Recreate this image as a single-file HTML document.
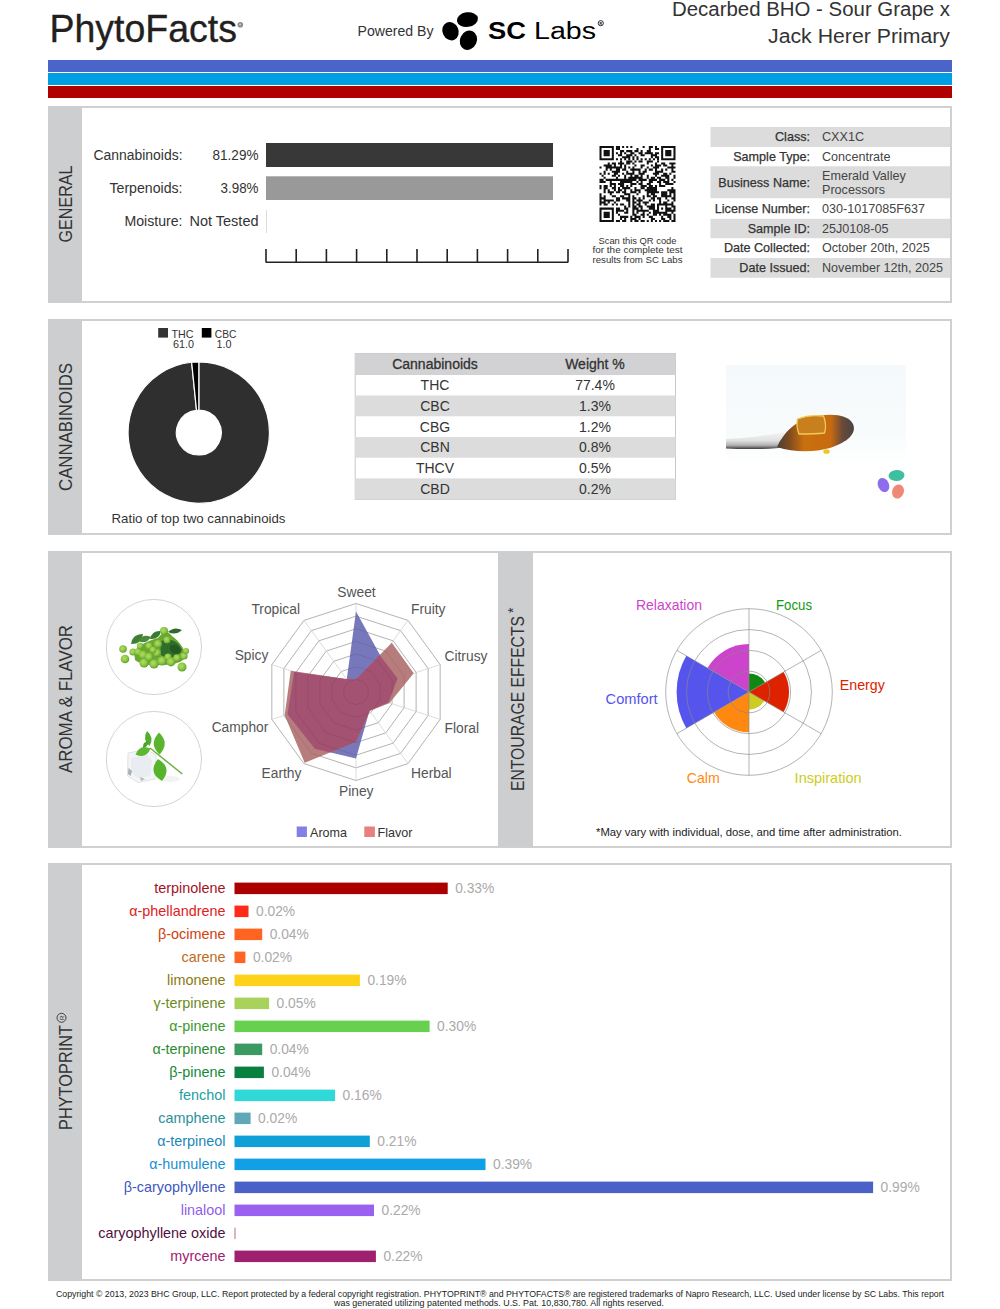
<!DOCTYPE html><html><head><meta charset="utf-8"><style>html,body{margin:0;padding:0;background:#fff;overflow:hidden}svg{display:block}text{font-family:"Liberation Sans",sans-serif}</style></head><body>
<svg width="1000" height="1309" viewBox="0 0 1000 1309">
<text x="49.5" y="42" font-size="39" fill="#231f20" text-anchor="start" font-weight="400" textLength="187.5" lengthAdjust="spacingAndGlyphs" stroke="#231f20" stroke-width="0.35">PhytoFacts</text>
<circle cx="240.3" cy="24.8" r="2.8" fill="#8a8a8a"/>
<circle cx="240.1" cy="24.6" r="1.1" fill="#c8c8c8"/>
<text x="433.5" y="36" font-size="14" fill="#333" text-anchor="end" font-weight="400" textLength="76" lengthAdjust="spacingAndGlyphs" >Powered By</text>
<ellipse cx="467.4" cy="19.6" rx="10.6" ry="7.3" transform="rotate(-8 467.4 19.6)" fill="#000"/>
<ellipse cx="450.5" cy="31.2" rx="8.0" ry="9.4" transform="rotate(-25 450.5 31.2)" fill="#000"/>
<ellipse cx="468.4" cy="40.2" rx="8.4" ry="10.0" transform="rotate(25 468.4 40.2)" fill="#000"/>
<text x="488" y="39.3" font-size="23.5" fill="#000" text-anchor="start" font-weight="700" textLength="38" lengthAdjust="spacingAndGlyphs" >SC</text>
<text x="534" y="39.3" font-size="23.5" fill="#000" text-anchor="start" font-weight="400" textLength="62" lengthAdjust="spacingAndGlyphs" >Labs</text>
<circle cx="600.8" cy="23.2" r="2.6" fill="none" stroke="#000" stroke-width="0.8"/>
<text x="600.8" y="25" font-size="3.5" fill="#000" text-anchor="middle" font-weight="700" >R</text>
<text x="950" y="15.7" font-size="19.5" fill="#333" text-anchor="end" font-weight="400" textLength="278" lengthAdjust="spacingAndGlyphs" >Decarbed BHO - Sour Grape x</text>
<text x="950" y="42.7" font-size="19.5" fill="#333" text-anchor="end" font-weight="400" textLength="182" lengthAdjust="spacingAndGlyphs" >Jack Herer Primary</text>
<rect x="48" y="60" width="904" height="12" fill="#4a64c9"/>
<rect x="48" y="73" width="904" height="12" fill="#009ee2"/>
<rect x="48" y="86" width="904" height="12" fill="#b00000"/>
<rect x="49" y="107" width="902" height="195" fill="#fff" stroke="#d0d0d0" stroke-width="2"/>
<rect x="48" y="106" width="34" height="197" fill="#cdced0"/>
<rect x="49" y="320" width="902" height="214" fill="#fff" stroke="#d0d0d0" stroke-width="2"/>
<rect x="48" y="319" width="34" height="216" fill="#cdced0"/>
<rect x="49" y="552" width="902" height="295" fill="#fff" stroke="#d0d0d0" stroke-width="2"/>
<rect x="48" y="551" width="34" height="297" fill="#cdced0"/>
<rect x="49" y="864" width="902" height="416" fill="#fff" stroke="#d0d0d0" stroke-width="2"/>
<rect x="48" y="863" width="34" height="418" fill="#cdced0"/>
<rect x="498" y="552" width="35" height="295" fill="#cdced0"/>
<text x="0" y="0" font-size="18.5" fill="#333" text-anchor="middle" textLength="77" lengthAdjust="spacingAndGlyphs" transform="translate(72.3 204) rotate(-90)">GENERAL</text>
<text x="0" y="0" font-size="18.5" fill="#333" text-anchor="middle" textLength="128" lengthAdjust="spacingAndGlyphs" transform="translate(72.3 427) rotate(-90)">CANNABINOIDS</text>
<text x="0" y="0" font-size="18.5" fill="#333" text-anchor="middle" textLength="148" lengthAdjust="spacingAndGlyphs" transform="translate(72.3 699) rotate(-90)">AROMA &amp; FLAVOR</text>
<text x="0" y="0" font-size="18.5" fill="#333" text-anchor="middle" textLength="175" lengthAdjust="spacingAndGlyphs" transform="translate(524.3 703.5) rotate(-90)">ENTOURAGE EFFECTS</text>
<text x="0" y="0" font-size="14" fill="#333" transform="translate(518 613) rotate(-90)">*</text>
<text x="0" y="0" font-size="18" fill="#333" text-anchor="middle" textLength="105" lengthAdjust="spacingAndGlyphs" transform="translate(71.7 1077.5) rotate(-90)">PHYTOPRINT</text>
<circle cx="61.5" cy="1017.8" r="4.5" fill="none" stroke="#333" stroke-width="0.9"/>
<text x="0" y="0" font-size="6" fill="#333" text-anchor="middle" transform="translate(63.7 1017.8) rotate(-90)">R</text>
<text x="182.5" y="160" font-size="14" fill="#333" text-anchor="end" font-weight="400" textLength="89" lengthAdjust="spacingAndGlyphs" >Cannabinoids:</text>
<text x="258.5" y="160" font-size="14" fill="#333" text-anchor="end" font-weight="400" textLength="46" lengthAdjust="spacingAndGlyphs" >81.29%</text>
<text x="182.5" y="193" font-size="14" fill="#333" text-anchor="end" font-weight="400" textLength="73" lengthAdjust="spacingAndGlyphs" >Terpenoids:</text>
<text x="258.5" y="193" font-size="14" fill="#333" text-anchor="end" font-weight="400" textLength="38" lengthAdjust="spacingAndGlyphs" >3.98%</text>
<text x="182.5" y="226.4" font-size="14" fill="#333" text-anchor="end" font-weight="400" textLength="58" lengthAdjust="spacingAndGlyphs" >Moisture:</text>
<text x="258.5" y="226.4" font-size="14" fill="#333" text-anchor="end" font-weight="400" textLength="69" lengthAdjust="spacingAndGlyphs" >Not Tested</text>
<rect x="266" y="143" width="287" height="24" fill="#383838"/>
<rect x="266" y="176.3" width="287" height="23.7" fill="#999"/>
<rect x="266" y="210" width="1" height="23" fill="#ddd"/>
<path d="M266 262.2H568 M266.0 249V262.5M296.2 249V262.5M326.4 249V262.5M356.6 249V262.5M386.8 249V262.5M417.0 249V262.5M447.2 249V262.5M477.4 249V262.5M507.6 249V262.5M537.8 249V262.5M568.0 249V262.5" stroke="#222" stroke-width="1.6" fill="none"/>
<path d="M599.50 146.00h2.05v2.05h-2.05zM601.55 146.00h2.05v2.05h-2.05zM603.61 146.00h2.05v2.05h-2.05zM605.66 146.00h2.05v2.05h-2.05zM607.72 146.00h2.05v2.05h-2.05zM609.77 146.00h2.05v2.05h-2.05zM611.82 146.00h2.05v2.05h-2.05zM615.93 146.00h2.05v2.05h-2.05zM617.99 146.00h2.05v2.05h-2.05zM622.09 146.00h2.05v2.05h-2.05zM626.20 146.00h2.05v2.05h-2.05zM630.31 146.00h2.05v2.05h-2.05zM642.64 146.00h2.05v2.05h-2.05zM648.80 146.00h2.05v2.05h-2.05zM650.85 146.00h2.05v2.05h-2.05zM654.96 146.00h2.05v2.05h-2.05zM661.12 146.00h2.05v2.05h-2.05zM663.18 146.00h2.05v2.05h-2.05zM665.23 146.00h2.05v2.05h-2.05zM667.28 146.00h2.05v2.05h-2.05zM669.34 146.00h2.05v2.05h-2.05zM671.39 146.00h2.05v2.05h-2.05zM673.45 146.00h2.05v2.05h-2.05zM599.50 148.05h2.05v2.05h-2.05zM611.82 148.05h2.05v2.05h-2.05zM615.93 148.05h2.05v2.05h-2.05zM617.99 148.05h2.05v2.05h-2.05zM636.47 148.05h2.05v2.05h-2.05zM648.80 148.05h2.05v2.05h-2.05zM654.96 148.05h2.05v2.05h-2.05zM657.01 148.05h2.05v2.05h-2.05zM661.12 148.05h2.05v2.05h-2.05zM673.45 148.05h2.05v2.05h-2.05zM599.50 150.11h2.05v2.05h-2.05zM603.61 150.11h2.05v2.05h-2.05zM605.66 150.11h2.05v2.05h-2.05zM607.72 150.11h2.05v2.05h-2.05zM611.82 150.11h2.05v2.05h-2.05zM620.04 150.11h2.05v2.05h-2.05zM622.09 150.11h2.05v2.05h-2.05zM626.20 150.11h2.05v2.05h-2.05zM628.26 150.11h2.05v2.05h-2.05zM630.31 150.11h2.05v2.05h-2.05zM634.42 150.11h2.05v2.05h-2.05zM636.47 150.11h2.05v2.05h-2.05zM640.58 150.11h2.05v2.05h-2.05zM646.74 150.11h2.05v2.05h-2.05zM648.80 150.11h2.05v2.05h-2.05zM661.12 150.11h2.05v2.05h-2.05zM665.23 150.11h2.05v2.05h-2.05zM667.28 150.11h2.05v2.05h-2.05zM669.34 150.11h2.05v2.05h-2.05zM673.45 150.11h2.05v2.05h-2.05zM599.50 152.16h2.05v2.05h-2.05zM603.61 152.16h2.05v2.05h-2.05zM605.66 152.16h2.05v2.05h-2.05zM607.72 152.16h2.05v2.05h-2.05zM611.82 152.16h2.05v2.05h-2.05zM615.93 152.16h2.05v2.05h-2.05zM620.04 152.16h2.05v2.05h-2.05zM624.15 152.16h2.05v2.05h-2.05zM630.31 152.16h2.05v2.05h-2.05zM632.36 152.16h2.05v2.05h-2.05zM638.53 152.16h2.05v2.05h-2.05zM640.58 152.16h2.05v2.05h-2.05zM644.69 152.16h2.05v2.05h-2.05zM646.74 152.16h2.05v2.05h-2.05zM648.80 152.16h2.05v2.05h-2.05zM650.85 152.16h2.05v2.05h-2.05zM654.96 152.16h2.05v2.05h-2.05zM657.01 152.16h2.05v2.05h-2.05zM661.12 152.16h2.05v2.05h-2.05zM665.23 152.16h2.05v2.05h-2.05zM667.28 152.16h2.05v2.05h-2.05zM669.34 152.16h2.05v2.05h-2.05zM673.45 152.16h2.05v2.05h-2.05zM599.50 154.22h2.05v2.05h-2.05zM603.61 154.22h2.05v2.05h-2.05zM605.66 154.22h2.05v2.05h-2.05zM607.72 154.22h2.05v2.05h-2.05zM611.82 154.22h2.05v2.05h-2.05zM617.99 154.22h2.05v2.05h-2.05zM620.04 154.22h2.05v2.05h-2.05zM626.20 154.22h2.05v2.05h-2.05zM628.26 154.22h2.05v2.05h-2.05zM630.31 154.22h2.05v2.05h-2.05zM634.42 154.22h2.05v2.05h-2.05zM640.58 154.22h2.05v2.05h-2.05zM642.64 154.22h2.05v2.05h-2.05zM650.85 154.22h2.05v2.05h-2.05zM652.91 154.22h2.05v2.05h-2.05zM654.96 154.22h2.05v2.05h-2.05zM661.12 154.22h2.05v2.05h-2.05zM665.23 154.22h2.05v2.05h-2.05zM667.28 154.22h2.05v2.05h-2.05zM669.34 154.22h2.05v2.05h-2.05zM673.45 154.22h2.05v2.05h-2.05zM599.50 156.27h2.05v2.05h-2.05zM611.82 156.27h2.05v2.05h-2.05zM622.09 156.27h2.05v2.05h-2.05zM624.15 156.27h2.05v2.05h-2.05zM626.20 156.27h2.05v2.05h-2.05zM628.26 156.27h2.05v2.05h-2.05zM632.36 156.27h2.05v2.05h-2.05zM636.47 156.27h2.05v2.05h-2.05zM650.85 156.27h2.05v2.05h-2.05zM654.96 156.27h2.05v2.05h-2.05zM657.01 156.27h2.05v2.05h-2.05zM661.12 156.27h2.05v2.05h-2.05zM673.45 156.27h2.05v2.05h-2.05zM599.50 158.32h2.05v2.05h-2.05zM601.55 158.32h2.05v2.05h-2.05zM603.61 158.32h2.05v2.05h-2.05zM605.66 158.32h2.05v2.05h-2.05zM607.72 158.32h2.05v2.05h-2.05zM609.77 158.32h2.05v2.05h-2.05zM611.82 158.32h2.05v2.05h-2.05zM615.93 158.32h2.05v2.05h-2.05zM620.04 158.32h2.05v2.05h-2.05zM624.15 158.32h2.05v2.05h-2.05zM628.26 158.32h2.05v2.05h-2.05zM632.36 158.32h2.05v2.05h-2.05zM636.47 158.32h2.05v2.05h-2.05zM640.58 158.32h2.05v2.05h-2.05zM644.69 158.32h2.05v2.05h-2.05zM648.80 158.32h2.05v2.05h-2.05zM652.91 158.32h2.05v2.05h-2.05zM657.01 158.32h2.05v2.05h-2.05zM661.12 158.32h2.05v2.05h-2.05zM663.18 158.32h2.05v2.05h-2.05zM665.23 158.32h2.05v2.05h-2.05zM667.28 158.32h2.05v2.05h-2.05zM669.34 158.32h2.05v2.05h-2.05zM671.39 158.32h2.05v2.05h-2.05zM673.45 158.32h2.05v2.05h-2.05zM620.04 160.38h2.05v2.05h-2.05zM626.20 160.38h2.05v2.05h-2.05zM628.26 160.38h2.05v2.05h-2.05zM630.31 160.38h2.05v2.05h-2.05zM634.42 160.38h2.05v2.05h-2.05zM638.53 160.38h2.05v2.05h-2.05zM640.58 160.38h2.05v2.05h-2.05zM646.74 160.38h2.05v2.05h-2.05zM648.80 160.38h2.05v2.05h-2.05zM650.85 160.38h2.05v2.05h-2.05zM657.01 160.38h2.05v2.05h-2.05zM607.72 162.43h2.05v2.05h-2.05zM611.82 162.43h2.05v2.05h-2.05zM613.88 162.43h2.05v2.05h-2.05zM617.99 162.43h2.05v2.05h-2.05zM620.04 162.43h2.05v2.05h-2.05zM622.09 162.43h2.05v2.05h-2.05zM626.20 162.43h2.05v2.05h-2.05zM628.26 162.43h2.05v2.05h-2.05zM632.36 162.43h2.05v2.05h-2.05zM646.74 162.43h2.05v2.05h-2.05zM654.96 162.43h2.05v2.05h-2.05zM661.12 162.43h2.05v2.05h-2.05zM663.18 162.43h2.05v2.05h-2.05zM669.34 162.43h2.05v2.05h-2.05zM671.39 162.43h2.05v2.05h-2.05zM673.45 162.43h2.05v2.05h-2.05zM603.61 164.49h2.05v2.05h-2.05zM605.66 164.49h2.05v2.05h-2.05zM607.72 164.49h2.05v2.05h-2.05zM609.77 164.49h2.05v2.05h-2.05zM613.88 164.49h2.05v2.05h-2.05zM620.04 164.49h2.05v2.05h-2.05zM624.15 164.49h2.05v2.05h-2.05zM634.42 164.49h2.05v2.05h-2.05zM640.58 164.49h2.05v2.05h-2.05zM642.64 164.49h2.05v2.05h-2.05zM650.85 164.49h2.05v2.05h-2.05zM654.96 164.49h2.05v2.05h-2.05zM657.01 164.49h2.05v2.05h-2.05zM659.07 164.49h2.05v2.05h-2.05zM663.18 164.49h2.05v2.05h-2.05zM665.23 164.49h2.05v2.05h-2.05zM671.39 164.49h2.05v2.05h-2.05zM599.50 166.54h2.05v2.05h-2.05zM605.66 166.54h2.05v2.05h-2.05zM607.72 166.54h2.05v2.05h-2.05zM609.77 166.54h2.05v2.05h-2.05zM611.82 166.54h2.05v2.05h-2.05zM613.88 166.54h2.05v2.05h-2.05zM615.93 166.54h2.05v2.05h-2.05zM617.99 166.54h2.05v2.05h-2.05zM620.04 166.54h2.05v2.05h-2.05zM624.15 166.54h2.05v2.05h-2.05zM628.26 166.54h2.05v2.05h-2.05zM632.36 166.54h2.05v2.05h-2.05zM640.58 166.54h2.05v2.05h-2.05zM646.74 166.54h2.05v2.05h-2.05zM652.91 166.54h2.05v2.05h-2.05zM654.96 166.54h2.05v2.05h-2.05zM657.01 166.54h2.05v2.05h-2.05zM667.28 166.54h2.05v2.05h-2.05zM669.34 166.54h2.05v2.05h-2.05zM671.39 166.54h2.05v2.05h-2.05zM673.45 166.54h2.05v2.05h-2.05zM605.66 168.59h2.05v2.05h-2.05zM609.77 168.59h2.05v2.05h-2.05zM615.93 168.59h2.05v2.05h-2.05zM617.99 168.59h2.05v2.05h-2.05zM622.09 168.59h2.05v2.05h-2.05zM624.15 168.59h2.05v2.05h-2.05zM630.31 168.59h2.05v2.05h-2.05zM632.36 168.59h2.05v2.05h-2.05zM634.42 168.59h2.05v2.05h-2.05zM636.47 168.59h2.05v2.05h-2.05zM638.53 168.59h2.05v2.05h-2.05zM644.69 168.59h2.05v2.05h-2.05zM648.80 168.59h2.05v2.05h-2.05zM650.85 168.59h2.05v2.05h-2.05zM654.96 168.59h2.05v2.05h-2.05zM661.12 168.59h2.05v2.05h-2.05zM665.23 168.59h2.05v2.05h-2.05zM671.39 168.59h2.05v2.05h-2.05zM603.61 170.65h2.05v2.05h-2.05zM611.82 170.65h2.05v2.05h-2.05zM613.88 170.65h2.05v2.05h-2.05zM615.93 170.65h2.05v2.05h-2.05zM617.99 170.65h2.05v2.05h-2.05zM626.20 170.65h2.05v2.05h-2.05zM632.36 170.65h2.05v2.05h-2.05zM638.53 170.65h2.05v2.05h-2.05zM642.64 170.65h2.05v2.05h-2.05zM644.69 170.65h2.05v2.05h-2.05zM654.96 170.65h2.05v2.05h-2.05zM657.01 170.65h2.05v2.05h-2.05zM659.07 170.65h2.05v2.05h-2.05zM661.12 170.65h2.05v2.05h-2.05zM671.39 170.65h2.05v2.05h-2.05zM673.45 170.65h2.05v2.05h-2.05zM599.50 172.70h2.05v2.05h-2.05zM603.61 172.70h2.05v2.05h-2.05zM607.72 172.70h2.05v2.05h-2.05zM613.88 172.70h2.05v2.05h-2.05zM615.93 172.70h2.05v2.05h-2.05zM622.09 172.70h2.05v2.05h-2.05zM626.20 172.70h2.05v2.05h-2.05zM628.26 172.70h2.05v2.05h-2.05zM630.31 172.70h2.05v2.05h-2.05zM632.36 172.70h2.05v2.05h-2.05zM638.53 172.70h2.05v2.05h-2.05zM640.58 172.70h2.05v2.05h-2.05zM642.64 172.70h2.05v2.05h-2.05zM652.91 172.70h2.05v2.05h-2.05zM654.96 172.70h2.05v2.05h-2.05zM657.01 172.70h2.05v2.05h-2.05zM663.18 172.70h2.05v2.05h-2.05zM665.23 172.70h2.05v2.05h-2.05zM669.34 172.70h2.05v2.05h-2.05zM601.55 174.76h2.05v2.05h-2.05zM611.82 174.76h2.05v2.05h-2.05zM613.88 174.76h2.05v2.05h-2.05zM617.99 174.76h2.05v2.05h-2.05zM624.15 174.76h2.05v2.05h-2.05zM630.31 174.76h2.05v2.05h-2.05zM634.42 174.76h2.05v2.05h-2.05zM636.47 174.76h2.05v2.05h-2.05zM640.58 174.76h2.05v2.05h-2.05zM646.74 174.76h2.05v2.05h-2.05zM654.96 174.76h2.05v2.05h-2.05zM661.12 174.76h2.05v2.05h-2.05zM663.18 174.76h2.05v2.05h-2.05zM665.23 174.76h2.05v2.05h-2.05zM667.28 174.76h2.05v2.05h-2.05zM673.45 174.76h2.05v2.05h-2.05zM603.61 176.81h2.05v2.05h-2.05zM615.93 176.81h2.05v2.05h-2.05zM624.15 176.81h2.05v2.05h-2.05zM628.26 176.81h2.05v2.05h-2.05zM630.31 176.81h2.05v2.05h-2.05zM632.36 176.81h2.05v2.05h-2.05zM634.42 176.81h2.05v2.05h-2.05zM636.47 176.81h2.05v2.05h-2.05zM638.53 176.81h2.05v2.05h-2.05zM640.58 176.81h2.05v2.05h-2.05zM646.74 176.81h2.05v2.05h-2.05zM650.85 176.81h2.05v2.05h-2.05zM652.91 176.81h2.05v2.05h-2.05zM657.01 176.81h2.05v2.05h-2.05zM659.07 176.81h2.05v2.05h-2.05zM665.23 176.81h2.05v2.05h-2.05zM667.28 176.81h2.05v2.05h-2.05zM673.45 176.81h2.05v2.05h-2.05zM599.50 178.86h2.05v2.05h-2.05zM601.55 178.86h2.05v2.05h-2.05zM605.66 178.86h2.05v2.05h-2.05zM607.72 178.86h2.05v2.05h-2.05zM609.77 178.86h2.05v2.05h-2.05zM611.82 178.86h2.05v2.05h-2.05zM613.88 178.86h2.05v2.05h-2.05zM615.93 178.86h2.05v2.05h-2.05zM617.99 178.86h2.05v2.05h-2.05zM620.04 178.86h2.05v2.05h-2.05zM622.09 178.86h2.05v2.05h-2.05zM624.15 178.86h2.05v2.05h-2.05zM626.20 178.86h2.05v2.05h-2.05zM628.26 178.86h2.05v2.05h-2.05zM630.31 178.86h2.05v2.05h-2.05zM632.36 178.86h2.05v2.05h-2.05zM634.42 178.86h2.05v2.05h-2.05zM638.53 178.86h2.05v2.05h-2.05zM640.58 178.86h2.05v2.05h-2.05zM642.64 178.86h2.05v2.05h-2.05zM644.69 178.86h2.05v2.05h-2.05zM648.80 178.86h2.05v2.05h-2.05zM650.85 178.86h2.05v2.05h-2.05zM652.91 178.86h2.05v2.05h-2.05zM654.96 178.86h2.05v2.05h-2.05zM659.07 178.86h2.05v2.05h-2.05zM661.12 178.86h2.05v2.05h-2.05zM663.18 178.86h2.05v2.05h-2.05zM667.28 178.86h2.05v2.05h-2.05zM671.39 178.86h2.05v2.05h-2.05zM599.50 180.92h2.05v2.05h-2.05zM601.55 180.92h2.05v2.05h-2.05zM603.61 180.92h2.05v2.05h-2.05zM609.77 180.92h2.05v2.05h-2.05zM620.04 180.92h2.05v2.05h-2.05zM622.09 180.92h2.05v2.05h-2.05zM624.15 180.92h2.05v2.05h-2.05zM626.20 180.92h2.05v2.05h-2.05zM628.26 180.92h2.05v2.05h-2.05zM630.31 180.92h2.05v2.05h-2.05zM636.47 180.92h2.05v2.05h-2.05zM640.58 180.92h2.05v2.05h-2.05zM648.80 180.92h2.05v2.05h-2.05zM650.85 180.92h2.05v2.05h-2.05zM657.01 180.92h2.05v2.05h-2.05zM659.07 180.92h2.05v2.05h-2.05zM663.18 180.92h2.05v2.05h-2.05zM665.23 180.92h2.05v2.05h-2.05zM667.28 180.92h2.05v2.05h-2.05zM673.45 180.92h2.05v2.05h-2.05zM609.77 182.97h2.05v2.05h-2.05zM611.82 182.97h2.05v2.05h-2.05zM613.88 182.97h2.05v2.05h-2.05zM617.99 182.97h2.05v2.05h-2.05zM620.04 182.97h2.05v2.05h-2.05zM622.09 182.97h2.05v2.05h-2.05zM630.31 182.97h2.05v2.05h-2.05zM632.36 182.97h2.05v2.05h-2.05zM634.42 182.97h2.05v2.05h-2.05zM638.53 182.97h2.05v2.05h-2.05zM640.58 182.97h2.05v2.05h-2.05zM646.74 182.97h2.05v2.05h-2.05zM648.80 182.97h2.05v2.05h-2.05zM659.07 182.97h2.05v2.05h-2.05zM665.23 182.97h2.05v2.05h-2.05zM667.28 182.97h2.05v2.05h-2.05zM669.34 182.97h2.05v2.05h-2.05zM671.39 182.97h2.05v2.05h-2.05zM599.50 185.03h2.05v2.05h-2.05zM603.61 185.03h2.05v2.05h-2.05zM605.66 185.03h2.05v2.05h-2.05zM609.77 185.03h2.05v2.05h-2.05zM613.88 185.03h2.05v2.05h-2.05zM620.04 185.03h2.05v2.05h-2.05zM622.09 185.03h2.05v2.05h-2.05zM626.20 185.03h2.05v2.05h-2.05zM630.31 185.03h2.05v2.05h-2.05zM640.58 185.03h2.05v2.05h-2.05zM642.64 185.03h2.05v2.05h-2.05zM644.69 185.03h2.05v2.05h-2.05zM648.80 185.03h2.05v2.05h-2.05zM650.85 185.03h2.05v2.05h-2.05zM654.96 185.03h2.05v2.05h-2.05zM659.07 185.03h2.05v2.05h-2.05zM661.12 185.03h2.05v2.05h-2.05zM663.18 185.03h2.05v2.05h-2.05zM599.50 187.08h2.05v2.05h-2.05zM603.61 187.08h2.05v2.05h-2.05zM605.66 187.08h2.05v2.05h-2.05zM611.82 187.08h2.05v2.05h-2.05zM613.88 187.08h2.05v2.05h-2.05zM617.99 187.08h2.05v2.05h-2.05zM622.09 187.08h2.05v2.05h-2.05zM624.15 187.08h2.05v2.05h-2.05zM626.20 187.08h2.05v2.05h-2.05zM628.26 187.08h2.05v2.05h-2.05zM634.42 187.08h2.05v2.05h-2.05zM640.58 187.08h2.05v2.05h-2.05zM642.64 187.08h2.05v2.05h-2.05zM646.74 187.08h2.05v2.05h-2.05zM648.80 187.08h2.05v2.05h-2.05zM650.85 187.08h2.05v2.05h-2.05zM652.91 187.08h2.05v2.05h-2.05zM654.96 187.08h2.05v2.05h-2.05zM671.39 187.08h2.05v2.05h-2.05zM603.61 189.14h2.05v2.05h-2.05zM607.72 189.14h2.05v2.05h-2.05zM613.88 189.14h2.05v2.05h-2.05zM617.99 189.14h2.05v2.05h-2.05zM620.04 189.14h2.05v2.05h-2.05zM624.15 189.14h2.05v2.05h-2.05zM630.31 189.14h2.05v2.05h-2.05zM634.42 189.14h2.05v2.05h-2.05zM636.47 189.14h2.05v2.05h-2.05zM638.53 189.14h2.05v2.05h-2.05zM644.69 189.14h2.05v2.05h-2.05zM646.74 189.14h2.05v2.05h-2.05zM648.80 189.14h2.05v2.05h-2.05zM650.85 189.14h2.05v2.05h-2.05zM652.91 189.14h2.05v2.05h-2.05zM654.96 189.14h2.05v2.05h-2.05zM667.28 189.14h2.05v2.05h-2.05zM669.34 189.14h2.05v2.05h-2.05zM671.39 189.14h2.05v2.05h-2.05zM673.45 189.14h2.05v2.05h-2.05zM603.61 191.19h2.05v2.05h-2.05zM607.72 191.19h2.05v2.05h-2.05zM609.77 191.19h2.05v2.05h-2.05zM611.82 191.19h2.05v2.05h-2.05zM615.93 191.19h2.05v2.05h-2.05zM617.99 191.19h2.05v2.05h-2.05zM622.09 191.19h2.05v2.05h-2.05zM624.15 191.19h2.05v2.05h-2.05zM630.31 191.19h2.05v2.05h-2.05zM632.36 191.19h2.05v2.05h-2.05zM634.42 191.19h2.05v2.05h-2.05zM638.53 191.19h2.05v2.05h-2.05zM646.74 191.19h2.05v2.05h-2.05zM648.80 191.19h2.05v2.05h-2.05zM650.85 191.19h2.05v2.05h-2.05zM652.91 191.19h2.05v2.05h-2.05zM654.96 191.19h2.05v2.05h-2.05zM657.01 191.19h2.05v2.05h-2.05zM661.12 191.19h2.05v2.05h-2.05zM663.18 191.19h2.05v2.05h-2.05zM665.23 191.19h2.05v2.05h-2.05zM669.34 191.19h2.05v2.05h-2.05zM671.39 191.19h2.05v2.05h-2.05zM673.45 191.19h2.05v2.05h-2.05zM599.50 193.24h2.05v2.05h-2.05zM609.77 193.24h2.05v2.05h-2.05zM624.15 193.24h2.05v2.05h-2.05zM626.20 193.24h2.05v2.05h-2.05zM628.26 193.24h2.05v2.05h-2.05zM636.47 193.24h2.05v2.05h-2.05zM646.74 193.24h2.05v2.05h-2.05zM650.85 193.24h2.05v2.05h-2.05zM652.91 193.24h2.05v2.05h-2.05zM661.12 193.24h2.05v2.05h-2.05zM663.18 193.24h2.05v2.05h-2.05zM665.23 193.24h2.05v2.05h-2.05zM669.34 193.24h2.05v2.05h-2.05zM673.45 193.24h2.05v2.05h-2.05zM599.50 195.30h2.05v2.05h-2.05zM603.61 195.30h2.05v2.05h-2.05zM611.82 195.30h2.05v2.05h-2.05zM613.88 195.30h2.05v2.05h-2.05zM620.04 195.30h2.05v2.05h-2.05zM622.09 195.30h2.05v2.05h-2.05zM628.26 195.30h2.05v2.05h-2.05zM632.36 195.30h2.05v2.05h-2.05zM642.64 195.30h2.05v2.05h-2.05zM646.74 195.30h2.05v2.05h-2.05zM648.80 195.30h2.05v2.05h-2.05zM652.91 195.30h2.05v2.05h-2.05zM654.96 195.30h2.05v2.05h-2.05zM661.12 195.30h2.05v2.05h-2.05zM663.18 195.30h2.05v2.05h-2.05zM665.23 195.30h2.05v2.05h-2.05zM667.28 195.30h2.05v2.05h-2.05zM669.34 195.30h2.05v2.05h-2.05zM673.45 195.30h2.05v2.05h-2.05zM599.50 197.35h2.05v2.05h-2.05zM601.55 197.35h2.05v2.05h-2.05zM603.61 197.35h2.05v2.05h-2.05zM615.93 197.35h2.05v2.05h-2.05zM617.99 197.35h2.05v2.05h-2.05zM622.09 197.35h2.05v2.05h-2.05zM624.15 197.35h2.05v2.05h-2.05zM626.20 197.35h2.05v2.05h-2.05zM628.26 197.35h2.05v2.05h-2.05zM632.36 197.35h2.05v2.05h-2.05zM634.42 197.35h2.05v2.05h-2.05zM638.53 197.35h2.05v2.05h-2.05zM642.64 197.35h2.05v2.05h-2.05zM650.85 197.35h2.05v2.05h-2.05zM652.91 197.35h2.05v2.05h-2.05zM657.01 197.35h2.05v2.05h-2.05zM659.07 197.35h2.05v2.05h-2.05zM665.23 197.35h2.05v2.05h-2.05zM671.39 197.35h2.05v2.05h-2.05zM673.45 197.35h2.05v2.05h-2.05zM599.50 199.41h2.05v2.05h-2.05zM603.61 199.41h2.05v2.05h-2.05zM605.66 199.41h2.05v2.05h-2.05zM607.72 199.41h2.05v2.05h-2.05zM609.77 199.41h2.05v2.05h-2.05zM611.82 199.41h2.05v2.05h-2.05zM615.93 199.41h2.05v2.05h-2.05zM617.99 199.41h2.05v2.05h-2.05zM626.20 199.41h2.05v2.05h-2.05zM628.26 199.41h2.05v2.05h-2.05zM632.36 199.41h2.05v2.05h-2.05zM636.47 199.41h2.05v2.05h-2.05zM638.53 199.41h2.05v2.05h-2.05zM640.58 199.41h2.05v2.05h-2.05zM648.80 199.41h2.05v2.05h-2.05zM652.91 199.41h2.05v2.05h-2.05zM659.07 199.41h2.05v2.05h-2.05zM667.28 199.41h2.05v2.05h-2.05zM673.45 199.41h2.05v2.05h-2.05zM599.50 201.46h2.05v2.05h-2.05zM601.55 201.46h2.05v2.05h-2.05zM603.61 201.46h2.05v2.05h-2.05zM607.72 201.46h2.05v2.05h-2.05zM613.88 201.46h2.05v2.05h-2.05zM628.26 201.46h2.05v2.05h-2.05zM632.36 201.46h2.05v2.05h-2.05zM634.42 201.46h2.05v2.05h-2.05zM638.53 201.46h2.05v2.05h-2.05zM642.64 201.46h2.05v2.05h-2.05zM644.69 201.46h2.05v2.05h-2.05zM646.74 201.46h2.05v2.05h-2.05zM659.07 201.46h2.05v2.05h-2.05zM663.18 201.46h2.05v2.05h-2.05zM665.23 201.46h2.05v2.05h-2.05zM671.39 201.46h2.05v2.05h-2.05zM599.50 203.51h2.05v2.05h-2.05zM603.61 203.51h2.05v2.05h-2.05zM605.66 203.51h2.05v2.05h-2.05zM611.82 203.51h2.05v2.05h-2.05zM615.93 203.51h2.05v2.05h-2.05zM620.04 203.51h2.05v2.05h-2.05zM622.09 203.51h2.05v2.05h-2.05zM628.26 203.51h2.05v2.05h-2.05zM632.36 203.51h2.05v2.05h-2.05zM636.47 203.51h2.05v2.05h-2.05zM638.53 203.51h2.05v2.05h-2.05zM644.69 203.51h2.05v2.05h-2.05zM650.85 203.51h2.05v2.05h-2.05zM652.91 203.51h2.05v2.05h-2.05zM657.01 203.51h2.05v2.05h-2.05zM659.07 203.51h2.05v2.05h-2.05zM661.12 203.51h2.05v2.05h-2.05zM663.18 203.51h2.05v2.05h-2.05zM665.23 203.51h2.05v2.05h-2.05zM667.28 203.51h2.05v2.05h-2.05zM669.34 203.51h2.05v2.05h-2.05zM671.39 203.51h2.05v2.05h-2.05zM624.15 205.57h2.05v2.05h-2.05zM628.26 205.57h2.05v2.05h-2.05zM632.36 205.57h2.05v2.05h-2.05zM634.42 205.57h2.05v2.05h-2.05zM638.53 205.57h2.05v2.05h-2.05zM640.58 205.57h2.05v2.05h-2.05zM646.74 205.57h2.05v2.05h-2.05zM648.80 205.57h2.05v2.05h-2.05zM650.85 205.57h2.05v2.05h-2.05zM652.91 205.57h2.05v2.05h-2.05zM657.01 205.57h2.05v2.05h-2.05zM665.23 205.57h2.05v2.05h-2.05zM671.39 205.57h2.05v2.05h-2.05zM673.45 205.57h2.05v2.05h-2.05zM599.50 207.62h2.05v2.05h-2.05zM601.55 207.62h2.05v2.05h-2.05zM603.61 207.62h2.05v2.05h-2.05zM605.66 207.62h2.05v2.05h-2.05zM607.72 207.62h2.05v2.05h-2.05zM609.77 207.62h2.05v2.05h-2.05zM611.82 207.62h2.05v2.05h-2.05zM615.93 207.62h2.05v2.05h-2.05zM617.99 207.62h2.05v2.05h-2.05zM624.15 207.62h2.05v2.05h-2.05zM626.20 207.62h2.05v2.05h-2.05zM632.36 207.62h2.05v2.05h-2.05zM634.42 207.62h2.05v2.05h-2.05zM636.47 207.62h2.05v2.05h-2.05zM640.58 207.62h2.05v2.05h-2.05zM648.80 207.62h2.05v2.05h-2.05zM650.85 207.62h2.05v2.05h-2.05zM652.91 207.62h2.05v2.05h-2.05zM657.01 207.62h2.05v2.05h-2.05zM661.12 207.62h2.05v2.05h-2.05zM665.23 207.62h2.05v2.05h-2.05zM667.28 207.62h2.05v2.05h-2.05zM669.34 207.62h2.05v2.05h-2.05zM673.45 207.62h2.05v2.05h-2.05zM599.50 209.68h2.05v2.05h-2.05zM611.82 209.68h2.05v2.05h-2.05zM615.93 209.68h2.05v2.05h-2.05zM617.99 209.68h2.05v2.05h-2.05zM620.04 209.68h2.05v2.05h-2.05zM622.09 209.68h2.05v2.05h-2.05zM626.20 209.68h2.05v2.05h-2.05zM632.36 209.68h2.05v2.05h-2.05zM636.47 209.68h2.05v2.05h-2.05zM638.53 209.68h2.05v2.05h-2.05zM640.58 209.68h2.05v2.05h-2.05zM642.64 209.68h2.05v2.05h-2.05zM644.69 209.68h2.05v2.05h-2.05zM646.74 209.68h2.05v2.05h-2.05zM652.91 209.68h2.05v2.05h-2.05zM654.96 209.68h2.05v2.05h-2.05zM657.01 209.68h2.05v2.05h-2.05zM665.23 209.68h2.05v2.05h-2.05zM667.28 209.68h2.05v2.05h-2.05zM669.34 209.68h2.05v2.05h-2.05zM671.39 209.68h2.05v2.05h-2.05zM673.45 209.68h2.05v2.05h-2.05zM599.50 211.73h2.05v2.05h-2.05zM603.61 211.73h2.05v2.05h-2.05zM605.66 211.73h2.05v2.05h-2.05zM607.72 211.73h2.05v2.05h-2.05zM611.82 211.73h2.05v2.05h-2.05zM615.93 211.73h2.05v2.05h-2.05zM624.15 211.73h2.05v2.05h-2.05zM626.20 211.73h2.05v2.05h-2.05zM632.36 211.73h2.05v2.05h-2.05zM636.47 211.73h2.05v2.05h-2.05zM642.64 211.73h2.05v2.05h-2.05zM648.80 211.73h2.05v2.05h-2.05zM652.91 211.73h2.05v2.05h-2.05zM654.96 211.73h2.05v2.05h-2.05zM657.01 211.73h2.05v2.05h-2.05zM659.07 211.73h2.05v2.05h-2.05zM661.12 211.73h2.05v2.05h-2.05zM663.18 211.73h2.05v2.05h-2.05zM665.23 211.73h2.05v2.05h-2.05zM671.39 211.73h2.05v2.05h-2.05zM599.50 213.78h2.05v2.05h-2.05zM603.61 213.78h2.05v2.05h-2.05zM605.66 213.78h2.05v2.05h-2.05zM607.72 213.78h2.05v2.05h-2.05zM611.82 213.78h2.05v2.05h-2.05zM617.99 213.78h2.05v2.05h-2.05zM632.36 213.78h2.05v2.05h-2.05zM634.42 213.78h2.05v2.05h-2.05zM640.58 213.78h2.05v2.05h-2.05zM642.64 213.78h2.05v2.05h-2.05zM646.74 213.78h2.05v2.05h-2.05zM652.91 213.78h2.05v2.05h-2.05zM654.96 213.78h2.05v2.05h-2.05zM659.07 213.78h2.05v2.05h-2.05zM663.18 213.78h2.05v2.05h-2.05zM665.23 213.78h2.05v2.05h-2.05zM667.28 213.78h2.05v2.05h-2.05zM669.34 213.78h2.05v2.05h-2.05zM673.45 213.78h2.05v2.05h-2.05zM599.50 215.84h2.05v2.05h-2.05zM603.61 215.84h2.05v2.05h-2.05zM605.66 215.84h2.05v2.05h-2.05zM607.72 215.84h2.05v2.05h-2.05zM611.82 215.84h2.05v2.05h-2.05zM620.04 215.84h2.05v2.05h-2.05zM622.09 215.84h2.05v2.05h-2.05zM624.15 215.84h2.05v2.05h-2.05zM626.20 215.84h2.05v2.05h-2.05zM630.31 215.84h2.05v2.05h-2.05zM634.42 215.84h2.05v2.05h-2.05zM636.47 215.84h2.05v2.05h-2.05zM638.53 215.84h2.05v2.05h-2.05zM642.64 215.84h2.05v2.05h-2.05zM648.80 215.84h2.05v2.05h-2.05zM650.85 215.84h2.05v2.05h-2.05zM661.12 215.84h2.05v2.05h-2.05zM667.28 215.84h2.05v2.05h-2.05zM669.34 215.84h2.05v2.05h-2.05zM673.45 215.84h2.05v2.05h-2.05zM599.50 217.89h2.05v2.05h-2.05zM611.82 217.89h2.05v2.05h-2.05zM620.04 217.89h2.05v2.05h-2.05zM624.15 217.89h2.05v2.05h-2.05zM630.31 217.89h2.05v2.05h-2.05zM632.36 217.89h2.05v2.05h-2.05zM634.42 217.89h2.05v2.05h-2.05zM638.53 217.89h2.05v2.05h-2.05zM650.85 217.89h2.05v2.05h-2.05zM652.91 217.89h2.05v2.05h-2.05zM661.12 217.89h2.05v2.05h-2.05zM663.18 217.89h2.05v2.05h-2.05zM669.34 217.89h2.05v2.05h-2.05zM673.45 217.89h2.05v2.05h-2.05zM599.50 219.95h2.05v2.05h-2.05zM601.55 219.95h2.05v2.05h-2.05zM603.61 219.95h2.05v2.05h-2.05zM605.66 219.95h2.05v2.05h-2.05zM607.72 219.95h2.05v2.05h-2.05zM609.77 219.95h2.05v2.05h-2.05zM611.82 219.95h2.05v2.05h-2.05zM615.93 219.95h2.05v2.05h-2.05zM617.99 219.95h2.05v2.05h-2.05zM622.09 219.95h2.05v2.05h-2.05zM624.15 219.95h2.05v2.05h-2.05zM630.31 219.95h2.05v2.05h-2.05zM634.42 219.95h2.05v2.05h-2.05zM636.47 219.95h2.05v2.05h-2.05zM640.58 219.95h2.05v2.05h-2.05zM642.64 219.95h2.05v2.05h-2.05zM646.74 219.95h2.05v2.05h-2.05zM650.85 219.95h2.05v2.05h-2.05zM654.96 219.95h2.05v2.05h-2.05zM659.07 219.95h2.05v2.05h-2.05zM663.18 219.95h2.05v2.05h-2.05zM665.23 219.95h2.05v2.05h-2.05zM667.28 219.95h2.05v2.05h-2.05zM671.39 219.95h2.05v2.05h-2.05zM673.45 219.95h2.05v2.05h-2.05z" fill="#111"/>
<text x="637.5" y="243.7" font-size="9.3" fill="#333" text-anchor="middle" font-weight="400" textLength="78" lengthAdjust="spacingAndGlyphs" >Scan this QR code</text>
<text x="637.5" y="253.2" font-size="9.3" fill="#333" text-anchor="middle" font-weight="400" textLength="90" lengthAdjust="spacingAndGlyphs" >for the complete test</text>
<text x="637.5" y="262.6" font-size="9.3" fill="#333" text-anchor="middle" font-weight="400" textLength="90" lengthAdjust="spacingAndGlyphs" >results from SC Labs</text>
<rect x="710.5" y="127" width="239.5" height="20" fill="#dcdcdc"/>
<rect x="710.5" y="166.3" width="239.5" height="32.0" fill="#dcdcdc"/>
<rect x="710.5" y="218.8" width="239.5" height="19.399999999999977" fill="#dcdcdc"/>
<rect x="710.5" y="258" width="239.5" height="19.80000000000001" fill="#dcdcdc"/>
<text x="810" y="141.3" font-size="12.6" fill="#333" text-anchor="end" font-weight="400" stroke="#333" stroke-width="0.25">Class:</text>
<text x="822" y="141.3" font-size="12.6" fill="#444" text-anchor="start" font-weight="400" >CXX1C</text>
<text x="810" y="161.2" font-size="12.6" fill="#333" text-anchor="end" font-weight="400" stroke="#333" stroke-width="0.25">Sample Type:</text>
<text x="822" y="161.2" font-size="12.6" fill="#444" text-anchor="start" font-weight="400" >Concentrate</text>
<text x="810" y="187" font-size="12.6" fill="#333" text-anchor="end" font-weight="400" stroke="#333" stroke-width="0.25">Business Name:</text>
<text x="822" y="180.2" font-size="12.6" fill="#444" text-anchor="start" font-weight="400" >Emerald Valley</text>
<text x="822" y="194.2" font-size="12.6" fill="#444" text-anchor="start" font-weight="400" >Processors</text>
<text x="810" y="213" font-size="12.6" fill="#333" text-anchor="end" font-weight="400" stroke="#333" stroke-width="0.25">License Number:</text>
<text x="822" y="213" font-size="12.6" fill="#444" text-anchor="start" font-weight="400" >030-1017085F637</text>
<text x="810" y="232.6" font-size="12.6" fill="#333" text-anchor="end" font-weight="400" stroke="#333" stroke-width="0.25">Sample ID:</text>
<text x="822" y="232.6" font-size="12.6" fill="#444" text-anchor="start" font-weight="400" >25J0108-05</text>
<text x="810" y="252.2" font-size="12.6" fill="#333" text-anchor="end" font-weight="400" stroke="#333" stroke-width="0.25">Date Collected:</text>
<text x="822" y="252.2" font-size="12.6" fill="#444" text-anchor="start" font-weight="400" >October 20th, 2025</text>
<text x="810" y="271.8" font-size="12.6" fill="#333" text-anchor="end" font-weight="400" stroke="#333" stroke-width="0.25">Date Issued:</text>
<text x="822" y="271.8" font-size="12.6" fill="#444" text-anchor="start" font-weight="400" >November 12th, 2025</text>
<rect x="158.2" y="328" width="9.8" height="9.6" fill="#333"/>
<rect x="201.8" y="328" width="9.6" height="9.6" fill="#000"/>
<text x="171.5" y="337.6" font-size="11" fill="#333" text-anchor="start" font-weight="400" textLength="22" lengthAdjust="spacingAndGlyphs" >THC</text>
<text x="194" y="348.4" font-size="11" fill="#333" text-anchor="end" font-weight="400" textLength="21" lengthAdjust="spacingAndGlyphs" >61.0</text>
<text x="214.8" y="337.6" font-size="11" fill="#333" text-anchor="start" font-weight="400" textLength="21.5" lengthAdjust="spacingAndGlyphs" >CBC</text>
<text x="231.5" y="348.4" font-size="11" fill="#333" text-anchor="end" font-weight="400" textLength="15" lengthAdjust="spacingAndGlyphs" >1.0</text>
<path d="M198.80 361.90A70.7 70.7 0 1 1 191.64 362.26L196.53 410.32A22.4 22.4 0 1 0 198.80 410.20z" fill="#2f2f2f" stroke="#fff" stroke-width="1.2"/>
<path d="M191.65 362.26A70.7 70.7 0 0 1 198.80 361.90L198.80 410.20A22.4 22.4 0 0 0 196.53 410.31z" fill="#000" stroke="#fff" stroke-width="1.2"/>
<text x="198.5" y="522.8" font-size="13.3" fill="#333" text-anchor="middle" font-weight="400" textLength="174" lengthAdjust="spacingAndGlyphs" >Ratio of top two cannabinoids</text>
<rect x="355.2" y="353.5" width="320.3" height="145.89999999999998" fill="#fff" stroke="#c8c8c8" stroke-width="1"/>
<rect x="355.2" y="353.5" width="320.3" height="21.5" fill="#d2d2d4"/>
<rect x="355.2" y="395.5" width="320.3" height="20.80000000000001" fill="#dcdcdc"/>
<rect x="355.2" y="437" width="320.3" height="20.69999999999999" fill="#dcdcdc"/>
<rect x="355.2" y="478.4" width="320.3" height="21.0" fill="#dcdcdc"/>
<text x="435" y="369.25" font-size="14" fill="#333" text-anchor="middle" font-weight="400" stroke="#333" stroke-width="0.3">Cannabinoids</text>
<text x="595" y="369.25" font-size="14" fill="#333" text-anchor="middle" font-weight="400" stroke="#333" stroke-width="0.3">Weight %</text>
<text x="435" y="390.25" font-size="14" fill="#333" text-anchor="middle" font-weight="400" >THC</text>
<text x="595" y="390.25" font-size="14" fill="#333" text-anchor="middle" font-weight="400" >77.4%</text>
<text x="435" y="410.9" font-size="14" fill="#333" text-anchor="middle" font-weight="400" >CBC</text>
<text x="595" y="410.9" font-size="14" fill="#333" text-anchor="middle" font-weight="400" >1.3%</text>
<text x="435" y="431.65" font-size="14" fill="#333" text-anchor="middle" font-weight="400" >CBG</text>
<text x="595" y="431.65" font-size="14" fill="#333" text-anchor="middle" font-weight="400" >1.2%</text>
<text x="435" y="452.35" font-size="14" fill="#333" text-anchor="middle" font-weight="400" >CBN</text>
<text x="595" y="452.35" font-size="14" fill="#333" text-anchor="middle" font-weight="400" >0.8%</text>
<text x="435" y="473.04999999999995" font-size="14" fill="#333" text-anchor="middle" font-weight="400" >THCV</text>
<text x="595" y="473.04999999999995" font-size="14" fill="#333" text-anchor="middle" font-weight="400" >0.5%</text>
<text x="435" y="493.9" font-size="14" fill="#333" text-anchor="middle" font-weight="400" >CBD</text>
<text x="595" y="493.9" font-size="14" fill="#333" text-anchor="middle" font-weight="400" >0.2%</text>
<defs><linearGradient id="oil" x1="0" y1="0" x2="1" y2="0"><stop offset="0" stop-color="#4a4038"/><stop offset="0.15" stop-color="#7a4a20"/><stop offset="0.35" stop-color="#c8700e"/><stop offset="0.7" stop-color="#c86a10"/><stop offset="0.85" stop-color="#6a4a38"/><stop offset="1" stop-color="#4a4444"/></linearGradient><linearGradient id="spoon" x1="0" y1="0" x2="0" y2="1"><stop offset="0" stop-color="#f6f6f6"/><stop offset="0.5" stop-color="#e0e0e0"/><stop offset="0.78" stop-color="#b0b0b0"/><stop offset="1" stop-color="#383838"/></linearGradient><linearGradient id="bgfade" x1="0" y1="0" x2="0" y2="1"><stop offset="0" stop-color="#f4f9fb"/><stop offset="0.7" stop-color="#f8fbfc"/><stop offset="1" stop-color="#ffffff"/></linearGradient></defs>
<rect x="726" y="365" width="180" height="100" fill="url(#bgfade)"/>
<path d="M726 439 C745 438 765 436 784 432 L788 447 C770 449.5 745 449.5 726 448.5 Z" fill="url(#spoon)"/>
<path d="M777 447 C782 436 792 422 812 417 C830 413 848 414 853 424 C857 433 848 442 830 448 C815 452 795 453 777 447 Z" fill="url(#oil)"/>
<path d="M797.5 419 C805 416 815 415 823.5 416 C826 422 826 428 824.5 433 C815 434 806 434 799 434 C797 429 796.5 424 797.5 419 Z" fill="#c8801e" stroke="#f2c85a" stroke-width="1.3"/>
<ellipse cx="826.5" cy="451.5" rx="3.2" ry="2.3" fill="#e8c828"/>
<ellipse cx="883.5" cy="485" rx="5.5" ry="7.4" transform="rotate(-25 883.5 485)" fill="#8e6cf0"/>
<ellipse cx="896.5" cy="475.5" rx="8" ry="5.5" transform="rotate(-5 896.5 475.5)" fill="#3dbfa0"/>
<ellipse cx="898" cy="491.5" rx="5.8" ry="7.2" transform="rotate(20 898 491.5)" fill="#f08878"/>
<circle cx="153.9" cy="647" r="47.6" fill="none" stroke="#d4d4d4" stroke-width="1"/>
<circle cx="153.9" cy="759" r="47.6" fill="none" stroke="#d4d4d4" stroke-width="1"/>
<defs><radialGradient id="cone" cx="0.42" cy="0.4" r="0.6"><stop offset="0" stop-color="#b4dc6a"/><stop offset="0.6" stop-color="#8cc640"/><stop offset="1" stop-color="#5e9e2e"/></radialGradient></defs>
<path d="M134 652 C140 644 150 640 158 638 C162 632 168 630 172 636 C180 642 186 650 185 658 C180 664 170 665 160 665 C150 666 140 664 135 660 Z" fill="#6aa832"/>
<path d="M131 644Q141.48 644.38 143 634Q132.52 633.62 131 644Z" fill="#3f7f33" opacity="1"/>
<path d="M138 641Q146.26 644.73 151 637Q142.74 633.27 138 641Z" fill="#4a8a3a" opacity="1"/>
<path d="M150 639Q159.03 639.85 161 631Q151.97 630.15 150 639Z" fill="#3a7a30" opacity="1"/>
<path d="M168 632Q175.71 635.95 182 630Q174.29 626.05 168 632Z" fill="#2f6a2a" opacity="1"/>
<path d="M160 642 C168 637 178 640 182 650 C178 658 168 660 161 655Z" fill="#2f6e2a"/>
<path d="M170 646 C175 643 180 646 181 652 C177 655 172 654 170 650Z" fill="#245a22"/>
<circle cx="123" cy="649" r="3.8" fill="url(#cone)"/>
<circle cx="125" cy="659" r="4.3" fill="url(#cone)"/>
<circle cx="133" cy="652" r="3.6" fill="url(#cone)"/>
<circle cx="138" cy="652" r="3.8" fill="url(#cone)"/>
<circle cx="143" cy="655" r="4.2" fill="url(#cone)"/>
<circle cx="144" cy="663" r="4.6" fill="url(#cone)"/>
<circle cx="149" cy="657" r="4.2" fill="url(#cone)"/>
<circle cx="154" cy="664" r="4.6" fill="url(#cone)"/>
<circle cx="157" cy="653" r="4" fill="url(#cone)"/>
<circle cx="162" cy="661" r="4.6" fill="url(#cone)"/>
<circle cx="168" cy="657" r="3.6" fill="url(#cone)"/>
<circle cx="171" cy="662" r="4.4" fill="url(#cone)"/>
<circle cx="177" cy="658" r="3.8" fill="url(#cone)"/>
<circle cx="184" cy="656" r="3.6" fill="url(#cone)"/>
<circle cx="186" cy="651" r="3" fill="url(#cone)"/>
<circle cx="182" cy="667" r="4.5" fill="url(#cone)"/>
<circle cx="164" cy="631" r="4" fill="url(#cone)"/>
<circle cx="167" cy="640" r="3.6" fill="url(#cone)"/>
<circle cx="158" cy="644" r="4" fill="url(#cone)"/>
<circle cx="149" cy="646" r="3.6" fill="url(#cone)"/>
<circle cx="153" cy="650" r="3.4" fill="url(#cone)"/>
<circle cx="140" cy="646" r="3.2" fill="url(#cone)"/>
<ellipse cx="170" cy="779" rx="10" ry="3" fill="#f2f2f2"/>
<path d="M128 753 L146 749.5 L156 755 L155 779 L138 782.5 L127.5 776 Z" fill="#f3f5f7" stroke="#d8dce2" stroke-width="0.8"/>
<path d="M131 758 L147 755 L152 760 L150 776 L137 778 L131 772Z" fill="#e9ecf0"/>
<path d="M128.5 768 L132 771 L130.5 776 L128 774Z" fill="#8a9098" opacity="0.7"/>
<path d="M140 777 L145 779 L141 781Z" fill="#8a9098" opacity="0.6"/>
<path d="M150 748 L182.3 774" stroke="#6ab23c" stroke-width="1.5"/>
<path d="M147 731Q141.84 739.57 149.5 746Q154.66 737.43 147 731Z" fill="#52ae2c" opacity="1"/>
<path d="M159 732.5Q148.25 743.75 159.5 754.5Q170.25 743.25 159 732.5Z" fill="#5ab52e" opacity="1"/>
<path d="M135.5 754.5Q146.16 759.39 150.5 748.5Q139.84 743.61 135.5 754.5Z" fill="#5cb830" opacity="1"/>
<path d="M143 748Q148.75 746.82 148 741Q142.25 742.18 143 748Z" fill="#4aa428" opacity="1"/>
<path d="M158 759Q147.21 772.33 162 781Q172.79 767.67 158 759Z" fill="#56b42c" opacity="1"/>
<polygon points="356.00,679.36 363.43,681.77 368.02,688.09 368.02,695.91 363.43,702.23 356.00,704.64 348.57,702.23 343.98,695.91 343.98,688.09 348.57,681.77" fill="none" stroke="#c4c4c4" stroke-width="1"/>
<polygon points="356.00,666.71 370.86,671.54 380.05,684.19 380.05,699.81 370.86,712.46 356.00,717.29 341.14,712.46 331.95,699.81 331.95,684.19 341.14,671.54" fill="none" stroke="#c4c4c4" stroke-width="1"/>
<polygon points="356.00,654.07 378.29,661.32 392.07,680.28 392.07,703.72 378.29,722.68 356.00,729.93 333.71,722.68 319.93,703.72 319.93,680.28 333.71,661.32" fill="none" stroke="#c4c4c4" stroke-width="1"/>
<polygon points="356.00,641.43 385.73,651.09 404.10,676.37 404.10,707.63 385.73,732.91 356.00,742.57 326.27,732.91 307.90,707.63 307.90,676.37 326.27,651.09" fill="none" stroke="#c4c4c4" stroke-width="1"/>
<polygon points="356.00,628.79 393.16,640.86 416.12,672.47 416.12,711.53 393.16,743.14 356.00,755.21 318.84,743.14 295.88,711.53 295.88,672.47 318.84,640.86" fill="none" stroke="#c4c4c4" stroke-width="1"/>
<polygon points="356.00,616.14 400.59,630.63 428.14,668.56 428.14,715.44 400.59,753.37 356.00,767.86 311.41,753.37 283.86,715.44 283.86,668.56 311.41,630.63" fill="none" stroke="#c4c4c4" stroke-width="1"/>
<polygon points="356.00,603.50 408.02,620.40 440.17,664.65 440.17,719.35 408.02,763.60 356.00,780.50 303.98,763.60 271.83,719.35 271.83,664.65 303.98,620.40" fill="none" stroke="#c4c4c4" stroke-width="1"/>
<line x1="356" y1="692" x2="356.00" y2="603.50" stroke="#dcdcdc" stroke-width="1"/>
<line x1="356" y1="692" x2="408.02" y2="620.40" stroke="#dcdcdc" stroke-width="1"/>
<line x1="356" y1="692" x2="440.17" y2="664.65" stroke="#dcdcdc" stroke-width="1"/>
<line x1="356" y1="692" x2="440.17" y2="719.35" stroke="#dcdcdc" stroke-width="1"/>
<line x1="356" y1="692" x2="408.02" y2="763.60" stroke="#dcdcdc" stroke-width="1"/>
<line x1="356" y1="692" x2="356.00" y2="780.50" stroke="#dcdcdc" stroke-width="1"/>
<line x1="356" y1="692" x2="303.98" y2="763.60" stroke="#dcdcdc" stroke-width="1"/>
<line x1="356" y1="692" x2="271.83" y2="719.35" stroke="#dcdcdc" stroke-width="1"/>
<line x1="356" y1="692" x2="271.83" y2="664.65" stroke="#dcdcdc" stroke-width="1"/>
<line x1="356" y1="692" x2="303.98" y2="620.40" stroke="#dcdcdc" stroke-width="1"/>
<defs><clipPath id="aclip"><polygon points="356.00,611.60 381.27,657.21 397.56,678.50 388.34,702.51 369.52,710.61 356.00,758.40 314.86,748.63 287.52,714.25 294.18,671.91 346.77,679.30"/></clipPath></defs>
<polygon points="356.00,611.60 381.27,657.21 397.56,678.50 388.34,702.51 369.52,710.61 356.00,758.40 314.86,748.63 287.52,714.25 294.18,671.91 346.77,679.30" fill="#7777bb"/>
<polygon points="356.00,679.20 391.80,642.73 413.73,673.24 389.57,702.91 369.81,711.01 356.00,742.00 304.69,762.63 284.67,715.18 290.76,670.80 346.48,678.89" fill="#b77c7c"/>
<polygon points="356.00,679.20 391.80,642.73 413.73,673.24 389.57,702.91 369.81,711.01 356.00,742.00 304.69,762.63 284.67,715.18 290.76,670.80 346.48,678.89" fill="#a35272" clip-path="url(#aclip)"/>
<polygon points="356.00,679.36 363.43,681.77 368.02,688.09 368.02,695.91 363.43,702.23 356.00,704.64 348.57,702.23 343.98,695.91 343.98,688.09 348.57,681.77" fill="none" stroke="#000" stroke-opacity="0.08" stroke-width="1"/>
<polygon points="356.00,666.71 370.86,671.54 380.05,684.19 380.05,699.81 370.86,712.46 356.00,717.29 341.14,712.46 331.95,699.81 331.95,684.19 341.14,671.54" fill="none" stroke="#000" stroke-opacity="0.08" stroke-width="1"/>
<polygon points="356.00,654.07 378.29,661.32 392.07,680.28 392.07,703.72 378.29,722.68 356.00,729.93 333.71,722.68 319.93,703.72 319.93,680.28 333.71,661.32" fill="none" stroke="#000" stroke-opacity="0.08" stroke-width="1"/>
<polygon points="356.00,641.43 385.73,651.09 404.10,676.37 404.10,707.63 385.73,732.91 356.00,742.57 326.27,732.91 307.90,707.63 307.90,676.37 326.27,651.09" fill="none" stroke="#000" stroke-opacity="0.08" stroke-width="1"/>
<polygon points="356.00,628.79 393.16,640.86 416.12,672.47 416.12,711.53 393.16,743.14 356.00,755.21 318.84,743.14 295.88,711.53 295.88,672.47 318.84,640.86" fill="none" stroke="#000" stroke-opacity="0.08" stroke-width="1"/>
<polygon points="356.00,616.14 400.59,630.63 428.14,668.56 428.14,715.44 400.59,753.37 356.00,767.86 311.41,753.37 283.86,715.44 283.86,668.56 311.41,630.63" fill="none" stroke="#000" stroke-opacity="0.08" stroke-width="1"/>
<polygon points="356.00,603.50 408.02,620.40 440.17,664.65 440.17,719.35 408.02,763.60 356.00,780.50 303.98,763.60 271.83,719.35 271.83,664.65 303.98,620.40" fill="none" stroke="#000" stroke-opacity="0.08" stroke-width="1"/>
<text x="356.5" y="596.6" font-size="13.8" fill="#555" text-anchor="middle" font-weight="400" >Sweet</text>
<text x="411" y="614" font-size="13.8" fill="#555" text-anchor="start" font-weight="400" >Fruity</text>
<text x="444.5" y="660.5" font-size="13.8" fill="#555" text-anchor="start" font-weight="400" >Citrusy</text>
<text x="444.5" y="732.5" font-size="13.8" fill="#555" text-anchor="start" font-weight="400" >Floral</text>
<text x="411" y="778.4" font-size="13.8" fill="#555" text-anchor="start" font-weight="400" >Herbal</text>
<text x="356.2" y="795.5" font-size="13.8" fill="#555" text-anchor="middle" font-weight="400" >Piney</text>
<text x="301.4" y="778" font-size="13.8" fill="#555" text-anchor="end" font-weight="400" >Earthy</text>
<text x="268.4" y="732" font-size="13.8" fill="#555" text-anchor="end" font-weight="400" >Camphor</text>
<text x="268.4" y="660" font-size="13.8" fill="#555" text-anchor="end" font-weight="400" >Spicy</text>
<text x="300" y="614" font-size="13.8" fill="#555" text-anchor="end" font-weight="400" >Tropical</text>
<rect x="296.7" y="826.5" width="10.2" height="10.5" fill="#8080e6"/>
<text x="310" y="837" font-size="13" fill="#333" text-anchor="start" font-weight="400" textLength="37" lengthAdjust="spacingAndGlyphs" >Aroma</text>
<rect x="364.3" y="826.5" width="10.6" height="10.5" fill="#e88080"/>
<text x="377.5" y="837" font-size="13" fill="#333" text-anchor="start" font-weight="400" textLength="35" lengthAdjust="spacingAndGlyphs" >Flavor</text>
<path d="M749 692L707.52 668.05A47.9 47.9 0 0 1 749.00 644.10Z" fill="#cc44cc"/>
<path d="M749 692L686.30 728.20A72.4 72.4 0 0 1 686.30 655.80Z" fill="#5555ee"/>
<path d="M749 692L749.00 732.30A40.3 40.3 0 0 1 714.10 712.15Z" fill="#ff8811"/>
<path d="M749 692L764.16 700.75A17.5 17.5 0 0 1 749.00 709.50Z" fill="#cccc22"/>
<path d="M749 692L783.64 672.00A40 40 0 0 1 783.64 712.00Z" fill="#dd2200"/>
<path d="M749 692L749.00 673.40A18.6 18.6 0 0 1 765.11 682.70Z" fill="#118811"/>
<circle cx="749" cy="692" r="20.82" fill="none" stroke="#888" stroke-width="0.8" stroke-opacity="0.8"/>
<circle cx="749" cy="692" r="41.65" fill="none" stroke="#888" stroke-width="0.8" stroke-opacity="0.8"/>
<circle cx="749" cy="692" r="62.47" fill="none" stroke="#888" stroke-width="0.8" stroke-opacity="0.8"/>
<circle cx="749" cy="692" r="83.30" fill="none" stroke="#888" stroke-width="0.8" stroke-opacity="0.8"/>
<line x1="749" y1="692" x2="749.00" y2="608.70" stroke="#888" stroke-width="0.8" stroke-opacity="0.8"/>
<line x1="749" y1="692" x2="821.14" y2="650.35" stroke="#888" stroke-width="0.8" stroke-opacity="0.8"/>
<line x1="749" y1="692" x2="821.14" y2="733.65" stroke="#888" stroke-width="0.8" stroke-opacity="0.8"/>
<line x1="749" y1="692" x2="749.00" y2="775.30" stroke="#888" stroke-width="0.8" stroke-opacity="0.8"/>
<line x1="749" y1="692" x2="676.86" y2="733.65" stroke="#888" stroke-width="0.8" stroke-opacity="0.8"/>
<line x1="749" y1="692" x2="676.86" y2="650.35" stroke="#888" stroke-width="0.8" stroke-opacity="0.8"/>
<text x="669" y="609.9" font-size="14.6" fill="#cc44cc" text-anchor="middle" font-weight="400" textLength="66" lengthAdjust="spacingAndGlyphs" >Relaxation</text>
<text x="794" y="609.9" font-size="14.6" fill="#119911" text-anchor="middle" font-weight="400" textLength="36" lengthAdjust="spacingAndGlyphs" >Focus</text>
<text x="862.3" y="689.6" font-size="14.6" fill="#dd2200" text-anchor="middle" font-weight="400" textLength="45" lengthAdjust="spacingAndGlyphs" >Energy</text>
<text x="631.6" y="704.2" font-size="14.6" fill="#5555ee" text-anchor="middle" font-weight="400" textLength="52" lengthAdjust="spacingAndGlyphs" >Comfort</text>
<text x="703.2" y="783.2" font-size="14.6" fill="#ff8811" text-anchor="middle" font-weight="400" textLength="33" lengthAdjust="spacingAndGlyphs" >Calm</text>
<text x="828.1" y="783.2" font-size="14.6" fill="#cccc22" text-anchor="middle" font-weight="400" textLength="67" lengthAdjust="spacingAndGlyphs" >Inspiration</text>
<text x="749" y="835.6" font-size="11.3" fill="#222" text-anchor="middle" font-weight="400" textLength="306" lengthAdjust="spacingAndGlyphs" >*May vary with individual, dose, and time after administration.</text>
<text x="225.5" y="893.2" font-size="14.4" fill="#a3121f" text-anchor="end" font-weight="400" >terpinolene</text>
<rect x="234.5" y="882.6" width="213.2" height="11.5" fill="#ac0000"/>
<text x="455.2" y="893.2" font-size="13.8" fill="#aaa" text-anchor="start" font-weight="400" >0.33%</text>
<text x="225.5" y="916.2" font-size="14.4" fill="#e0201a" text-anchor="end" font-weight="400" >α-phellandrene</text>
<rect x="234.5" y="905.6" width="14.0" height="11.5" fill="#ff2a1a"/>
<text x="256.0" y="916.2" font-size="13.8" fill="#aaa" text-anchor="start" font-weight="400" >0.02%</text>
<text x="225.5" y="939.2" font-size="14.4" fill="#d0400c" text-anchor="end" font-weight="400" >β-ocimene</text>
<rect x="234.5" y="928.6" width="27.7" height="11.5" fill="#ff6420"/>
<text x="269.7" y="939.2" font-size="13.8" fill="#aaa" text-anchor="start" font-weight="400" >0.04%</text>
<text x="225.5" y="962.2" font-size="14.4" fill="#c06a1a" text-anchor="end" font-weight="400" >carene</text>
<rect x="234.5" y="951.6" width="10.9" height="11.5" fill="#ff6420"/>
<text x="252.9" y="962.2" font-size="13.8" fill="#aaa" text-anchor="start" font-weight="400" >0.02%</text>
<text x="225.5" y="985.2" font-size="14.4" fill="#8a7a10" text-anchor="end" font-weight="400" >limonene</text>
<rect x="234.5" y="974.6" width="125.4" height="11.5" fill="#ffd21a"/>
<text x="367.4" y="985.2" font-size="13.8" fill="#aaa" text-anchor="start" font-weight="400" >0.19%</text>
<text x="225.5" y="1008.2" font-size="14.4" fill="#6a8a20" text-anchor="end" font-weight="400" >γ-terpinene</text>
<rect x="234.5" y="997.6" width="34.6" height="11.5" fill="#a8d25a"/>
<text x="276.6" y="1008.2" font-size="13.8" fill="#aaa" text-anchor="start" font-weight="400" >0.05%</text>
<text x="225.5" y="1031.2" font-size="14.4" fill="#3a9a2a" text-anchor="end" font-weight="400" >α-pinene</text>
<rect x="234.5" y="1020.6" width="195.1" height="11.5" fill="#68d050"/>
<text x="437.1" y="1031.2" font-size="13.8" fill="#aaa" text-anchor="start" font-weight="400" >0.30%</text>
<text x="225.5" y="1054.1999999999998" font-size="14.4" fill="#2a8a30" text-anchor="end" font-weight="400" >α-terpinene</text>
<rect x="234.5" y="1043.6" width="27.7" height="11.5" fill="#3a9a62"/>
<text x="269.7" y="1054.1999999999998" font-size="13.8" fill="#aaa" text-anchor="start" font-weight="400" >0.04%</text>
<text x="225.5" y="1077.1999999999998" font-size="14.4" fill="#108a3a" text-anchor="end" font-weight="400" >β-pinene</text>
<rect x="234.5" y="1066.6" width="29.4" height="11.5" fill="#0a8040"/>
<text x="271.4" y="1077.1999999999998" font-size="13.8" fill="#aaa" text-anchor="start" font-weight="400" >0.04%</text>
<text x="225.5" y="1100.1999999999998" font-size="14.4" fill="#20a0a0" text-anchor="end" font-weight="400" >fenchol</text>
<rect x="234.5" y="1089.6" width="100.6" height="11.5" fill="#30d8d8"/>
<text x="342.6" y="1100.1999999999998" font-size="13.8" fill="#aaa" text-anchor="start" font-weight="400" >0.16%</text>
<text x="225.5" y="1123.1999999999998" font-size="14.4" fill="#2a9098" text-anchor="end" font-weight="400" >camphene</text>
<rect x="234.5" y="1112.6" width="16.1" height="11.5" fill="#60a8b8"/>
<text x="258.1" y="1123.1999999999998" font-size="13.8" fill="#aaa" text-anchor="start" font-weight="400" >0.02%</text>
<text x="225.5" y="1146.1999999999998" font-size="14.4" fill="#1a88b8" text-anchor="end" font-weight="400" >α-terpineol</text>
<rect x="234.5" y="1135.6" width="135.3" height="11.5" fill="#10a0d8"/>
<text x="377.3" y="1146.1999999999998" font-size="13.8" fill="#aaa" text-anchor="start" font-weight="400" >0.21%</text>
<text x="225.5" y="1169.1999999999998" font-size="14.4" fill="#1890d0" text-anchor="end" font-weight="400" >α-humulene</text>
<rect x="234.5" y="1158.6" width="251.0" height="11.5" fill="#10a0e6"/>
<text x="493.0" y="1169.1999999999998" font-size="13.8" fill="#aaa" text-anchor="start" font-weight="400" >0.39%</text>
<text x="225.5" y="1192.1999999999998" font-size="14.4" fill="#4058c0" text-anchor="end" font-weight="400" >β-caryophyllene</text>
<rect x="234.5" y="1181.6" width="638.6" height="11.5" fill="#4a62c8"/>
<text x="880.6" y="1192.1999999999998" font-size="13.8" fill="#aaa" text-anchor="start" font-weight="400" >0.99%</text>
<text x="225.5" y="1215.1999999999998" font-size="14.4" fill="#9060e8" text-anchor="end" font-weight="400" >linalool</text>
<rect x="234.5" y="1204.6" width="139.5" height="11.5" fill="#9a60f0"/>
<text x="381.5" y="1215.1999999999998" font-size="13.8" fill="#aaa" text-anchor="start" font-weight="400" >0.22%</text>
<text x="225.5" y="1238.1999999999998" font-size="14.4" fill="#501040" text-anchor="end" font-weight="400" >caryophyllene oxide</text>
<rect x="234.5" y="1227.6" width="1" height="11.5" fill="#b07090"/>
<text x="225.5" y="1261.1999999999998" font-size="14.4" fill="#a02070" text-anchor="end" font-weight="400" >myrcene</text>
<rect x="234.5" y="1250.6" width="141.4" height="11.5" fill="#a02070"/>
<text x="383.4" y="1261.1999999999998" font-size="13.8" fill="#aaa" text-anchor="start" font-weight="400" >0.22%</text>
<text x="500" y="1297" font-size="9" fill="#222" text-anchor="middle" font-weight="400" textLength="888" lengthAdjust="spacingAndGlyphs" >Copyright © 2013, 2023 BHC Group, LLC. Report protected by a federal copyright registration. PHYTOPRINT® and PHYTOFACTS® are registered trademarks of Napro Research, LLC. Used under license by SC Labs. This report</text>
<text x="499" y="1306" font-size="9" fill="#222" text-anchor="middle" font-weight="400" textLength="330" lengthAdjust="spacingAndGlyphs" >was generated utilizing patented methods. U.S. Pat. 10,830,780. All rights reserved.</text>
</svg></body></html>
